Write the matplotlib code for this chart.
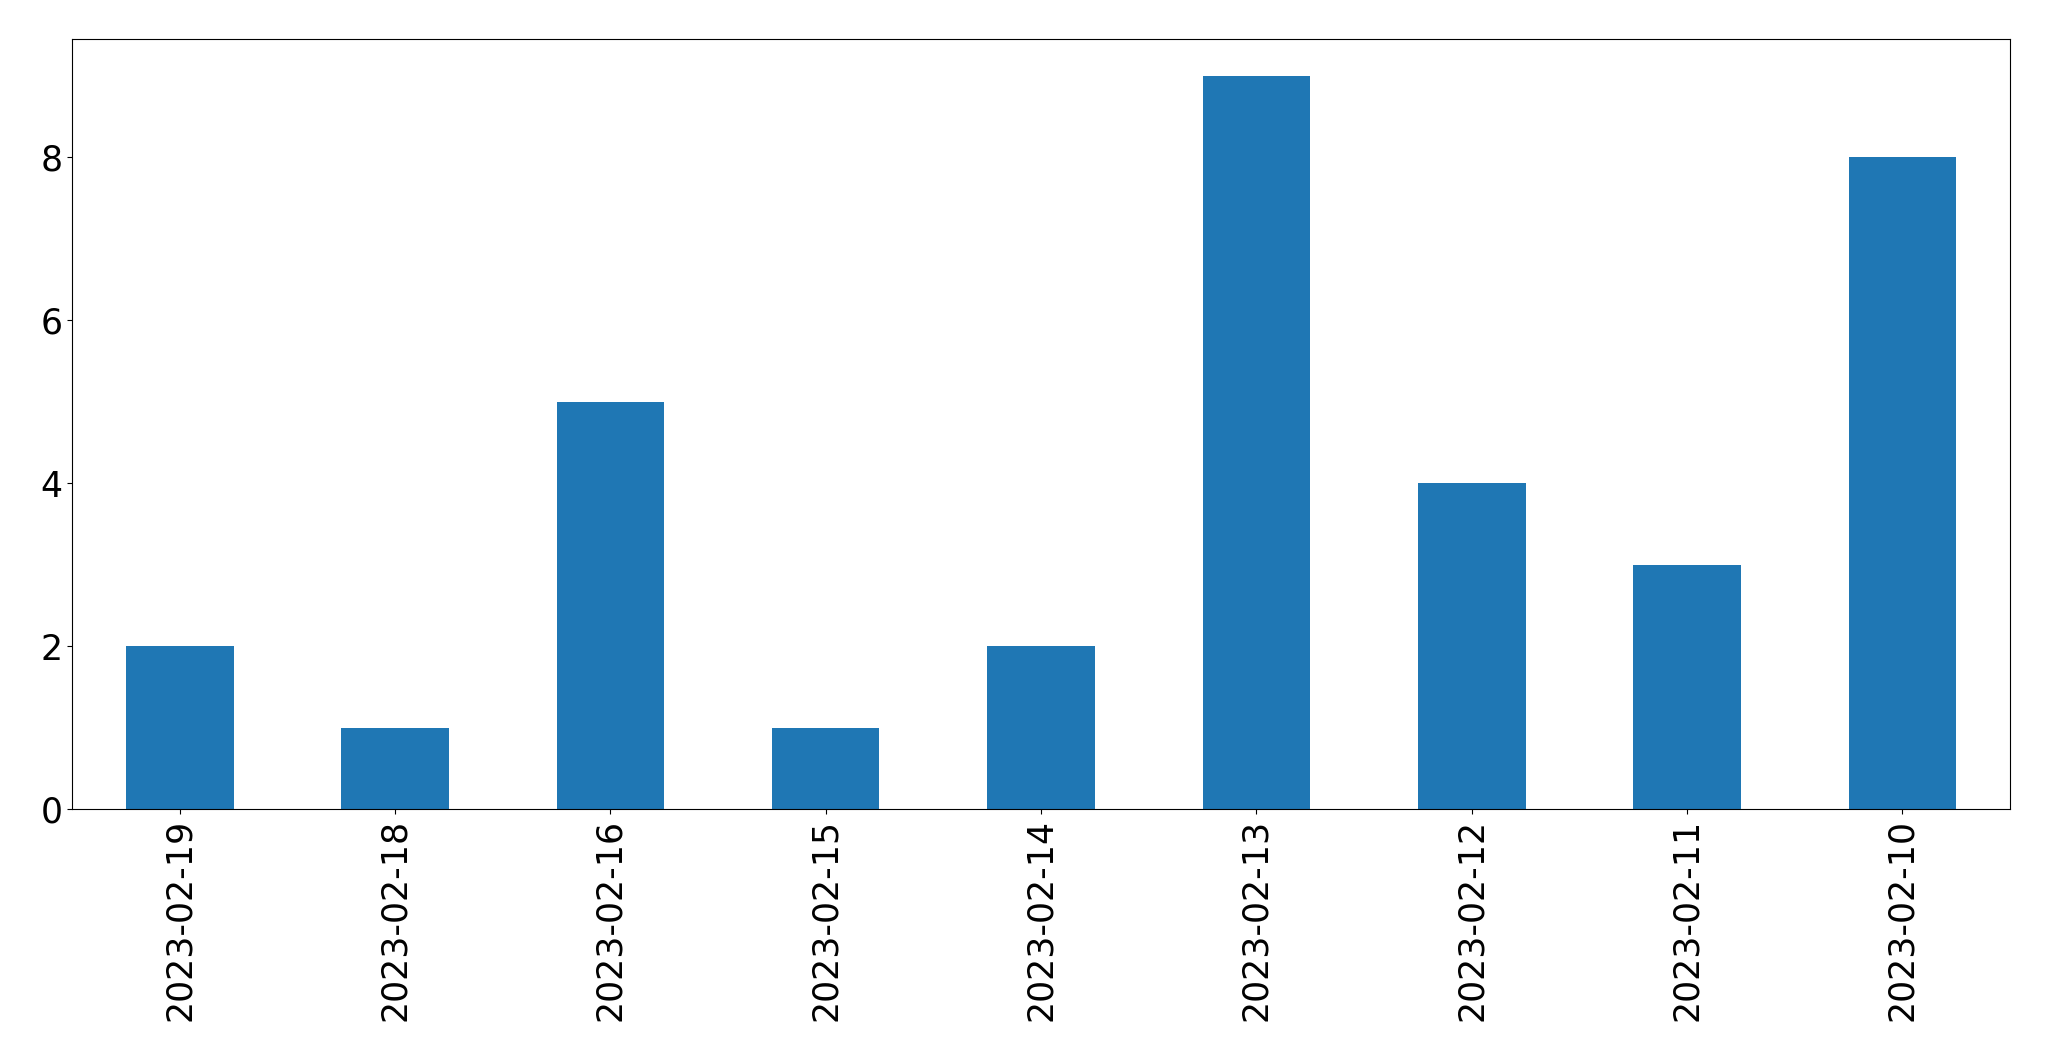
import matplotlib
matplotlib.use("Agg")
import matplotlib.pyplot as plt

dates = ["2023-02-19", "2023-02-18", "2023-02-16", "2023-02-15", "2023-02-14",
         "2023-02-13", "2023-02-12", "2023-02-11", "2023-02-10"]
counts = [2, 1, 5, 1, 2, 9, 4, 3, 8]

fig = plt.figure(figsize=(20.49, 10.61), dpi=100)
ax = fig.add_axes([72/2049, 1-809/1061, (2010-72)/2049, (809-39)/1061])
x = list(range(len(dates)))
ax.bar(x, counts, width=0.5, color="#1f77b4")
ax.set_xlim(-0.5, len(dates)-0.5)
ax.set_xticks(x)
ax.set_xticklabels(dates, rotation=90)
ax.tick_params(axis="both", labelsize=25)
fig.savefig("out.png", dpi=100)
